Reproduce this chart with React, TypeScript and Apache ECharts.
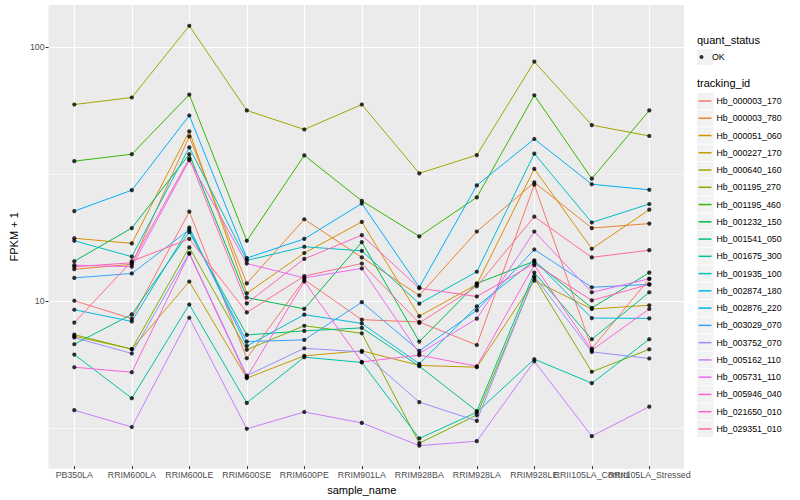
import React, { useEffect, useRef } from "react";
import * as echarts from "echarts";

const samples = [
  "PB350LA", "RRIM600LA", "RRIM600LE", "RRIM600SE", "RRIM600PE", "RRIM901LA",
  "RRIM928BA", "RRIM928LA", "RRIM928LE", "RRII105LA_Control", "RRII105LA_Stressed",
];

const trackingIds = [
  "Hb_000003_170", "Hb_000003_780", "Hb_000051_060", "Hb_000227_170", "Hb_000640_160",
  "Hb_001195_270", "Hb_001195_460", "Hb_001232_150", "Hb_001541_050", "Hb_001675_300",
  "Hb_001935_100", "Hb_002874_180", "Hb_002876_220", "Hb_003029_070", "Hb_003752_070",
  "Hb_005162_110", "Hb_005731_110", "Hb_005946_040", "Hb_021650_010", "Hb_029351_010",
];

const lineColors = [
  "#F8766D", "#EA8331", "#D89000", "#C09B00", "#A3A500", "#7CAE00", "#39B600", "#00BB4E",
  "#00BF7D", "#00C1A3", "#00BFC4", "#00BAE0", "#00B0F6", "#35A2FF", "#9590FF", "#C77CFF",
  "#E76BF3", "#FA62DB", "#FF62BC", "#FF6C91",
];

// FPKM + 1 per sample, in the order of `samples`
const hb000003_170 = [9.91, 8.42, 22.3, 5.87, 12.0, 8.34, 8.17, 6.62, 28.5, 6.41, 12.1];
const hb000003_780 = [13.2, 13.8, 44.2, 11.6, 20.8, 14.7, 10.4, 18.6, 29.1, 19.2, 20.0];
const hb000051_060 = [17.5, 16.7, 46.3, 10.6, 15.3, 20.3, 8.61, 11.5, 32.9, 15.9, 22.7];
const hb000227_170 = [7.18, 6.38, 11.8, 4.9, 6.0, 6.28, 5.5, 5.41, 11.9, 9.19, 9.51];
const hb000640_160 = [59.1, 63.0, 121, 56.0, 47.1, 59.1, 31.6, 37.3, 87.3, 49.0, 44.4];
const hb001195_270 = [7.28, 6.38, 16.1, 6.34, 7.89, 7.37, 2.71, 3.5, 12.2, 5.19, 6.37];
const hb001195_460 = [35.3, 37.6, 64.7, 17.1, 37.2, 24.6, 17.8, 25.4, 64.3, 30.1, 56.0];
const hb001232_150 = [14.2, 19.2, 37.6, 10.2, 9.2, 16.9, 6.83, 11.6, 14.2, 9.28, 12.8];
const hb001541_050 = [6.67, 8.75, 18.5, 7.26, 7.53, 7.74, 5.46, 3.63, 12.8, 6.98, 10.7];
const hb001675_300 = [6.07, 4.08, 9.58, 3.91, 5.93, 5.65, 2.83, 3.59, 5.82, 4.68, 6.98];
const hb001935_100 = [17.1, 14.8, 40.0, 14.3, 16.2, 15.6, 9.65, 12.9, 37.8, 20.2, 23.9];
const hb002874_180 = [9.13, 8.21, 19.3, 6.56, 8.73, 8.06, 5.58, 9.41, 14.3, 8.46, 8.44];
const hb002876_220 = [22.4, 27.1, 53.5, 14.6, 17.4, 24.0, 11.2, 28.3, 43.2, 28.6, 27.2];
const hb003029_070 = [12.2, 12.7, 18.9, 6.83, 6.94, 9.78, 6.28, 9.08, 15.8, 11.2, 11.5];
const hb003752_070 = [7.09, 6.13, 15.3, 5.01, 6.43, 6.22, 3.94, 3.32, 12.4, 6.22, 5.86];
const hb005162_110 = [3.66, 3.14, 8.49, 3.09, 3.6, 3.26, 2.65, 2.76, 5.71, 2.89, 3.78];
const hb005731_110 = [13.7, 13.5, 35.6, 13.9, 12.2, 13.3, 6.13, 8.42, 18.6, 10.7, 12.1];
const hb005946_040 = [5.41, 5.17, 15.2, 4.94, 11.8, 5.68, 6.04, 5.46, 13.7, 6.32, 9.2];
const hb021650_010 = [13.5, 14.0, 36.2, 9.67, 14.5, 18.0, 11.1, 10.3, 13.9, 9.94, 11.5];
const hb029351_010 = [8.12, 14.2, 17.4, 8.91, 12.4, 13.9, 8.1, 11.3, 21.3, 14.7, 15.7];

const seriesValues = [
  hb000003_170, hb000003_780, hb000051_060, hb000227_170, hb000640_160,
  hb001195_270, hb001195_460, hb001232_150, hb001541_050, hb001675_300,
  hb001935_100, hb002874_180, hb002876_220, hb003029_070, hb003752_070,
  hb005162_110, hb005731_110, hb005946_040, hb021650_010, hb029351_010,
];

const yMin = 2.2;
const yMax = 146.2;
const minorBreaks = [3.1623, 31.623];

export default function App() {
  const ref = useRef<HTMLDivElement>(null);

  useEffect(() => {
    document.body.style.margin = "0";
    const chart = echarts.init(ref.current!, null, { renderer: "svg" });
    const font = "'Liberation Sans', Arial, Helvetica, sans-serif";

    const panelLeft = 40;
    const panelTop = 5;
    const panelWidth = 644;
    const panelHeight = 463.7;
    const band = 57.5;
    const dataLeft = 74.3 - band / 2;

    const lineSeries = trackingIds.map((id, i) => ({
      type: "line",
      name: id,
      xAxisIndex: 1,
      yAxisIndex: 1,
      data: seriesValues[i],
      symbol: "none",
      showSymbol: false,
      silent: true,
      z: 3,
      lineStyle: { color: lineColors[i], width: 1 },
      itemStyle: { color: lineColors[i] },
    }));

    const points: [string, number][] = [];
    seriesValues.forEach((vals) => vals.forEach((v, j) => points.push([samples[j], v])));

    const legendTop = 101;
    const legendStep = 17.26;
    const keyBoxes = trackingIds.map((_, i) => ({
      type: "rect",
      shape: { x: 697, y: legendTop + i * legendStep - 8.2, width: 16.5, height: 16.4 },
      style: { fill: "#F2F2F2" },
      silent: true,
    }));

    chart.setOption({
      animation: false,
      textStyle: { fontFamily: font },
      grid: [
        {
          left: panelLeft, top: panelTop, width: panelWidth, height: panelHeight,
          show: true, backgroundColor: "#EBEBEB", borderWidth: 0,
        },
        {
          left: dataLeft, top: panelTop, width: band * samples.length, height: panelHeight,
          show: false,
        },
      ],
      xAxis: [
        { type: "value", gridIndex: 0, min: 0, max: 1, show: false },
        {
          type: "category", gridIndex: 1, data: samples, boundaryGap: true,
          axisLine: { show: false },
          axisTick: { show: true, alignWithLabel: true, length: 3, lineStyle: { color: "#333333", width: 1 } },
          axisLabel: { interval: 0, color: "#4D4D4D", fontSize: 8.8, margin: 4, fontFamily: font },
          splitLine: { show: false },
          name: "sample_name", nameLocation: "middle", nameGap: 13,
          nameTextStyle: { color: "#000", fontSize: 11, fontFamily: font },
        },
      ],
      yAxis: [
        {
          type: "log", logBase: 10, gridIndex: 0, min: yMin, max: yMax,
          axisLine: { show: false },
          axisTick: { show: true, length: 3, lineStyle: { color: "#333333", width: 1 } },
          axisLabel: {
            color: "#4D4D4D", fontSize: 8.8, margin: 4, fontFamily: font,
            showMinLabel: false, showMaxLabel: false,
          },
          splitLine: {
            show: true, showMinLine: false, showMaxLine: false,
            lineStyle: { color: "#FFFFFF", width: 1.1 },
          },
          name: "FPKM + 1", nameLocation: "middle", nameGap: 24, nameRotate: 90,
          nameTextStyle: { color: "#000", fontSize: 11, fontFamily: font },
        },
        { type: "log", logBase: 10, gridIndex: 1, min: yMin, max: yMax, show: false },
      ],
      legend: [
        {
          orient: "vertical", left: 699.5, top: 48.5, padding: 0, itemGap: 0,
          itemWidth: 11, itemHeight: 4, selectedMode: false,
          data: [{ name: "OK", icon: "circle", itemStyle: { color: "#000" } }],
          textStyle: { color: "#000", fontSize: 8.8, lineHeight: 17, fontFamily: font },
        },
        {
          orient: "vertical", left: 698.5, top: legendTop - legendStep / 2, padding: 0, itemGap: 0,
          itemWidth: 13, itemHeight: 1.5, selectedMode: false,
          data: trackingIds.map((id, i) => ({ name: id, icon: "rect", itemStyle: { color: lineColors[i] } })),
          textStyle: { color: "#000", fontSize: 8.8, lineHeight: legendStep, fontFamily: font },
        },
      ],
      graphic: [
        {
          type: "text", left: 697, top: 34,
          style: { text: "quant_status", fill: "#000", fontSize: 11, fontFamily: font },
          silent: true,
        },
        {
          type: "rect", shape: { x: 697, y: 48.8, width: 16.5, height: 16.4 },
          style: { fill: "#F2F2F2" }, silent: true,
        },
        {
          type: "text", left: 697, top: 77.5,
          style: { text: "tracking_id", fill: "#000", fontSize: 11, fontFamily: font },
          silent: true,
        },
        ...keyBoxes,
      ],
      series: [
        {
          type: "line", name: "_minor", xAxisIndex: 0, yAxisIndex: 0, data: [], z: 1, silent: true,
          markLine: {
            z: 1, silent: true, symbol: ["none", "none"], label: { show: false },
            lineStyle: { color: "#FFFFFF", width: 0.55, type: "solid" },
            data: minorBreaks.map((v) => ({ yAxis: v })),
          },
        },
        {
          type: "line", name: "_vgrid", xAxisIndex: 1, yAxisIndex: 1, data: [], z: 1, silent: true,
          markLine: {
            z: 1, silent: true, symbol: ["none", "none"], label: { show: false },
            lineStyle: { color: "#FFFFFF", width: 1.1, type: "solid" },
            data: samples.map((s) => ({ xAxis: s })),
          },
        },
        ...lineSeries,
        {
          type: "scatter", name: "OK", xAxisIndex: 1, yAxisIndex: 1, data: points,
          symbol: "circle", symbolSize: 4.2, itemStyle: { color: "#000" }, z: 4, silent: true,
        },
      ],
    });

    return () => chart.dispose();
  }, []);

  return (
    <div
      ref={ref}
      style={{ position: "absolute", left: 0, top: 0, width: 800, height: 500 }}
    />
  );
}
